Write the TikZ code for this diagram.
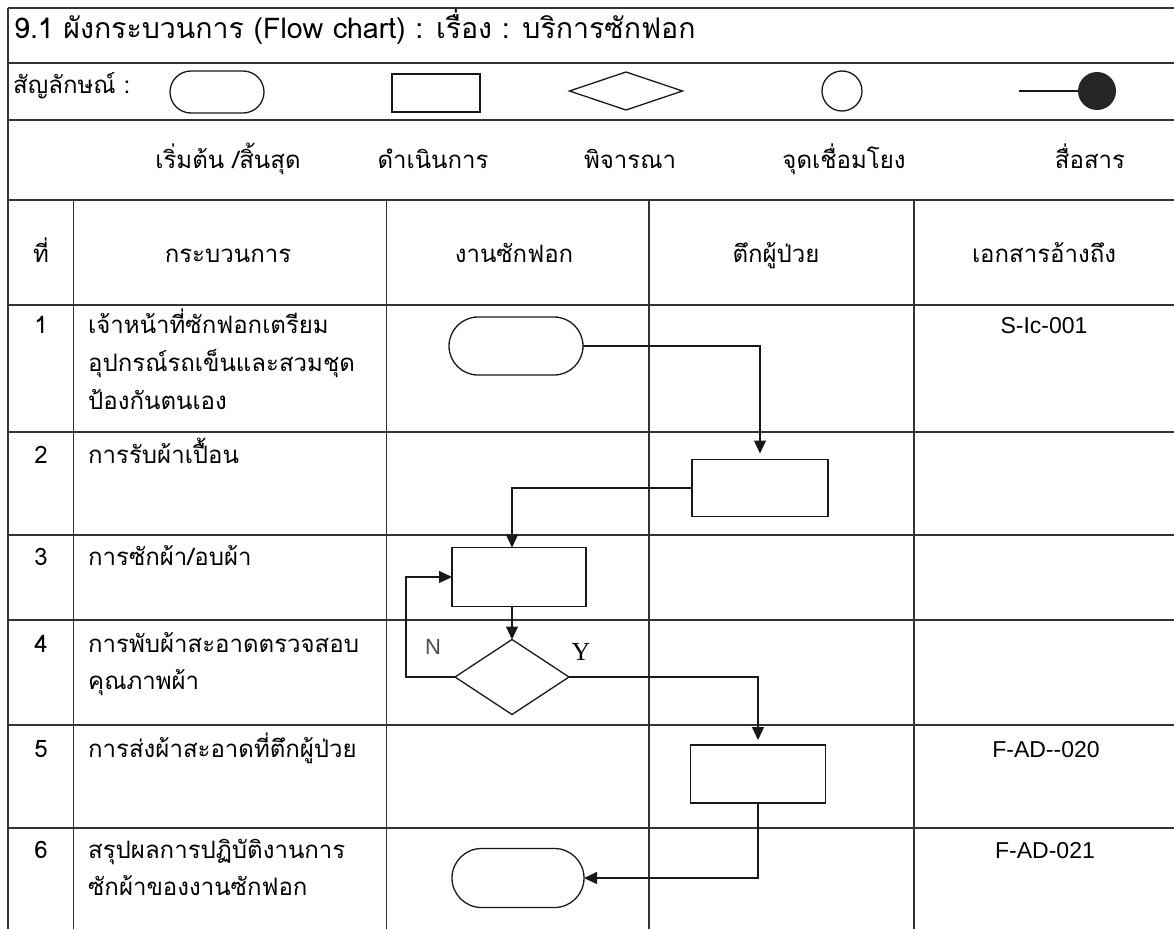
\documentclass[tikz,border=0pt]{standalone}
\usepackage{fontspec}
\setmainfont[Script=Thai]{Loma}
\newfontfamily\reffont{Liberation Sans}
\newfontfamily\yfont{Liberation Serif}
\usetikzlibrary{shapes.geometric,shapes.misc,arrows.meta}
\begin{document}
\begin{tikzpicture}[x=1pt,y=-1pt,
  grid/.style={line width=1.1pt, draw=black!80},
  shp/.style={draw=black!90, line width=1.3pt, inner sep=0pt, outer sep=0pt},
  term/.style={shp, rounded rectangle},
  proc/.style={shp, rectangle},
  dec/.style={shp, diamond},
  flow/.style={draw=black!90, line width=1.2pt, -{Triangle[length=13pt,width=12pt]}},
  plain/.style={draw=black!90, line width=1.2pt},
  txt/.style={inner sep=0pt, font=\fontsize{24}{37}\selectfont},
  ttl/.style={inner sep=0pt, font=\fontsize{28.5}{34}\selectfont},
  reftxt/.style={inner sep=0pt, font=\reffont\fontsize{23}{28}\selectfont}
]
\useasboundingbox (0,0) rectangle (1174,929);
\fill[white] (0,0) rectangle (1174,929);
% table grid
\foreach \yy in {8,63,120,200,305,432,535,620,725,828}{\draw[grid] (8,\yy) -- (1174,\yy);}
\draw[grid] (8,8) -- (8,929);
\foreach \xx in {73.5,386.5,649,914}{\draw[grid] (\xx,200) -- (\xx,929);}
% title and legend
\node[ttl, anchor=base west] (title) at (14,38) {9.1 ผังกระบวนการ (Flow chart) : เรื่อง : บริการซักฟอก};
\node[txt, anchor=base west] (symlbl) at (13,93) {สัญลักษณ์ :};
\node[term, minimum width=94pt, minimum height=42pt] (lgterm) at (217,92) {};
\node[proc, minimum width=88pt, minimum height=38pt] (lgproc) at (436,93) {};
\node[dec, minimum width=113pt, minimum height=38pt] (lgdec) at (626,91) {};
\node[shp, circle, minimum size=40pt] (lgconn) at (842,91) {};
\node[circle, fill=black!85, inner sep=0pt, minimum size=38pt] (lgcomm) at (1097,91) {};
\coordinate (lgline) at (1019,91);
\draw[plain] (lgline) -- (lgcomm);
\node[txt, anchor=base] (l1) at (228,168) {เริ่มต้น /สิ้นสุด};
\node[txt, anchor=base] (l2) at (433,168) {ดำเนินการ};
\node[txt, anchor=base] (l3) at (630,168) {พิจารณา};
\node[txt, anchor=base] (l4) at (844,168) {จุดเชื่อมโยง};
\node[txt, anchor=base] (l5) at (1090,168) {สื่อสาร};
% header
\node[txt, anchor=base] (h1) at (41,262) {ที่};
\node[txt, anchor=base] (h2) at (228,262) {กระบวนการ};
\node[txt, anchor=base] (h3) at (514,262) {งานซักฟอก};
\node[txt, anchor=base] (h4) at (776,262) {ตึกผู้ป่วย};
\node[txt, anchor=base] (h5) at (1044,262) {เอกสารอ้างถึง};
% numbers
\node[txt, anchor=base] (n1) at (41,333) {1};
\node[txt, anchor=base] (n2) at (41,463) {2};
\node[txt, anchor=base] (n3) at (41,565) {3};
\node[txt, anchor=base] (n4) at (41,652) {4};
\node[txt, anchor=base] (n5) at (41,757) {5};
\node[txt, anchor=base] (n6) at (41,858) {6};
% process texts (base anchor = last line)
\node[txt, anchor=base west, align=left, font=\fontsize{24}{38}\selectfont] (s1) at (88,409) {เจ้าหน้าที่ซักฟอกเตรียม\\อุปกรณ์รถเข็นและสวมชุด\\ป้องกันตนเอง};
\node[txt, anchor=base west] (s2) at (88,463) {การรับผ้าเปื้อน};
\node[txt, anchor=base west] (s3) at (88,565) {การซักผ้า/อบผ้า};
\node[txt, anchor=base west, align=left] (s4) at (88,689) {การพับผ้าสะอาดตรวจสอบ\\คุณภาพผ้า};
\node[txt, anchor=base west] (s5) at (88,757) {การส่งผ้าสะอาดที่ตึกผู้ป่วย};
\node[txt, anchor=base west, align=left] (s6) at (88,895) {สรุปผลการปฏิบัติงานการ\\ซักผ้าของงานซักฟอก};
% references
\node[reftxt, anchor=base] (r1) at (1044,333) {S-Ic-001};
\node[reftxt, anchor=base] (r5) at (1046,757) {F-AD--020};
\node[reftxt, anchor=base] (r6) at (1045,858) {F-AD-021};
% flow shapes
\node[term, minimum width=134pt, minimum height=58pt] (start) at (516,346) {};
\node[proc, minimum width=136pt, minimum height=57pt] (p2) at (760,488) {};
\node[proc, minimum width=134pt, minimum height=59pt] (p3) at (519,577) {};
\node[dec, minimum width=114pt, minimum height=75pt] (d) at (512,677) {};
\node[proc, minimum width=135pt, minimum height=58pt] (p5) at (758,774) {};
\node[term, minimum width=132pt, minimum height=59pt] (end) at (518,878) {};
\coordinate (nloop) at (406,677);
% connectors
\draw[flow, shorten >=6pt] (start.east) -| (p2.north);
\draw[flow] (p2.west) -| (d.north |- p3.north);
\draw[flow] (p3.south -| d.north) -- (d.north);
\draw[flow] (d.west) -- (nloop) |- (p3.west);
\draw[flow, shorten >=5pt] (d.east) -| (p5.north);
\draw[flow] (p5.south) |- (end.east);
\node[txt, anchor=base, font=\reffont\fontsize{22}{26}\selectfont, text=black!70] (nlab) at (433,654) {N};
\node[txt, anchor=base, font=\yfont\fontsize{26}{30}\selectfont] (ylab) at (581,660) {Y};
\end{tikzpicture}
\end{document}
